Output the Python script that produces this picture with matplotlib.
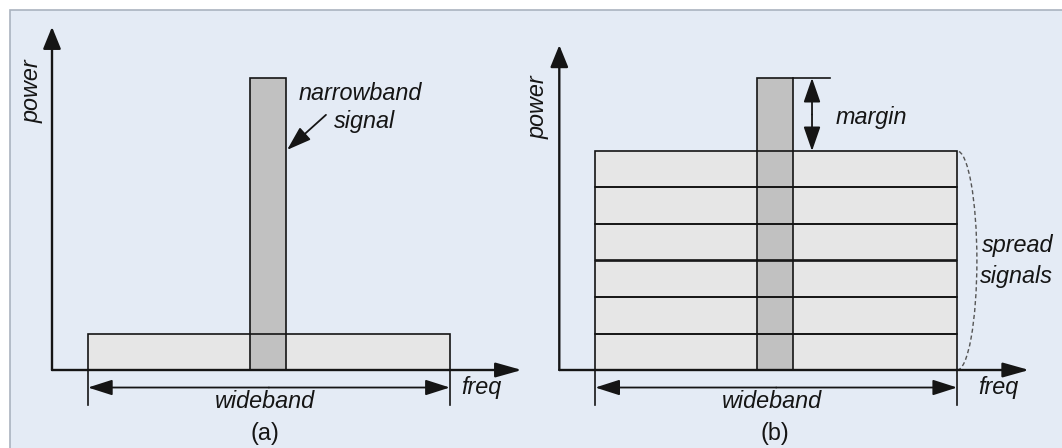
import numpy as np
import matplotlib
matplotlib.use("Agg")
import matplotlib.pyplot as plt
from matplotlib.patches import Rectangle, Arc

plt.rcParams['font.family'] = ['Liberation Sans', 'DejaVu Sans']

# band edges on the freq axis (arbitrary units)
wide_band = [1.0, 11.05]
narrow_band = [5.5, 6.5]
narrow_power = 8.0

# panel (a): one wideband signal at low power
wide_power_a = 1.0
# panel (b): six spread signals stacked
spread_powers = [1.0, 1.0, 1.0, 1.0, 1.0, 1.0]

freq_max = 13.05
power_max = {'a': 9.4, 'b': 8.9}

bg = '#e4ebf5'
wide_fill = '#e6e6e6'
narrow_fill = '#c1c1c1'
ink = '#151515'

W, H = 1062, 448
fig = plt.figure(figsize=(W / 100, H / 100), dpi=100, facecolor='white')

# light panel with a grey border on top/left
fig.patches.append(Rectangle((10 / W, -0.1), 1.2, 1.1 - 10 / H, transform=fig.transFigure,
                             facecolor=bg, edgecolor='#aab3bf', lw=1.2, zorder=-5))

px_x, px_y = 36.0, 36.5
y0_px = 370.0


def make_axes(origin_px):
    left = (origin_px - px_x) / W
    width = 14 * px_x / W
    ax = fig.add_axes([left, 0, width, 1])
    ax.set_xlim(-1, 13)
    ax.set_ylim(-(H - y0_px) / px_y, y0_px / px_y)
    ax.axis('off')
    return ax


def arrow(ax, xy_from, xy_to, style='-|>', hl=1.5, hw=0.45, lw=1.5):
    ax.annotate('', xy=xy_to, xytext=xy_from, annotation_clip=False,
                arrowprops=dict(arrowstyle=f'{style},head_length={hl},head_width={hw}',
                                color=ink, lw=lw, shrinkA=0, shrinkB=0))


def draw_axes(ax, key):
    arrow(ax, (0, 0), (0, power_max[key]), hl=1.35, hw=0.55, lw=1.7)
    arrow(ax, (0, 0), (freq_max, 0), hl=1.6, hw=0.45, lw=1.7)
    # wideband span marker
    for x in wide_band:
        ax.plot([x, x], [-0.96, 0], color=ink, lw=1.2, clip_on=False)
    arrow(ax, (np.mean(wide_band), -0.48), (wide_band[0], -0.48), hl=1.5, hw=0.48, lw=1.3)
    arrow(ax, (np.mean(wide_band), -0.48), (wide_band[1], -0.48), hl=1.5, hw=0.48, lw=1.3)


txt = dict(color=ink, fontsize=16.8, style='italic')

# ---- panel (a)
ax = make_axes(52.0)
wb = wide_band[1] - wide_band[0]
nb = narrow_band[1] - narrow_band[0]
ax.bar(wide_band[0], wide_power_a, width=wb, align='edge', color=wide_fill, zorder=1)
ax.bar(narrow_band[0], narrow_power, width=nb, align='edge', color=narrow_fill, zorder=2)
ax.bar(wide_band[0], wide_power_a, width=wb, align='edge', fill=False,
       edgecolor=ink, lw=1.2, zorder=3)
ax.bar(narrow_band[0], narrow_power, width=nb, align='edge', fill=False,
       edgecolor=ink, lw=1.2, zorder=3)
draw_axes(ax, 'a')
arrow(ax, (7.61, 6.99), (6.53, 6.03), hl=1.5, hw=0.5, lw=1.3)
ax.text(-0.55, 7.64, 'power', rotation=90, ha='center', va='center', **txt)
ax.text(8.55, 7.4, 'narrowband', ha='center', va='baseline', **txt)
ax.text(8.69, 6.63, 'signal', ha='center', va='baseline', **txt)
ax.text(5.9, -1.04, 'wideband', ha='center', va='baseline', **txt)
ax.text(11.92, -0.66, 'freq', ha='center', va='baseline', **txt)
ax.text(5.92, -1.73, '(a)', ha='center', va='center', color=ink, fontsize=16.8)

# ---- panel (b)
ax = make_axes(559.3)
bottoms = np.concatenate([[0], np.cumsum(spread_powers)[:-1]])
top = float(np.sum(spread_powers))
n = len(spread_powers)
ax.bar([wide_band[0]] * n, spread_powers, width=wb, bottom=bottoms, align='edge',
       color=wide_fill, zorder=1)
ax.bar(narrow_band[0], narrow_power, width=nb, align='edge', color=narrow_fill, zorder=2)
ax.bar([wide_band[0]] * n, spread_powers, width=wb, bottom=bottoms, align='edge',
       fill=False, edgecolor=ink, lw=1.2, zorder=3)
ax.bar(narrow_band[0], narrow_power, width=nb, align='edge', fill=False,
       edgecolor=ink, lw=1.2, zorder=3)
draw_axes(ax, 'b')
# margin between narrowband peak and spread signals
ax.plot([narrow_band[1], 7.52], [narrow_power, narrow_power], color=ink, lw=1.2)
arrow(ax, (7.02, (narrow_power + top) / 2), (7.02, narrow_power), hl=1.5, hw=0.52, lw=1.3)
arrow(ax, (7.02, (narrow_power + top) / 2), (7.02, top), hl=1.5, hw=0.52, lw=1.3)
ax.text(8.66, 6.74, 'margin', ha='center', va='baseline', **txt)
# dashed brace round the spread signals
ax.add_patch(Arc((wide_band[1], top / 2), 1.1, top, theta1=-90, theta2=90,
                 color='#555555', lw=1.0, ls=(0, (3, 2)), clip_on=False))
ax.text(12.74, 3.23, 'spread', ha='center', va='baseline', **txt)
ax.text(12.69, 2.38, 'signals', ha='center', va='baseline', **txt)
ax.text(-0.6, 7.19, 'power', rotation=90, ha='center', va='center', **txt)
ax.text(5.91, -1.04, 'wideband', ha='center', va='baseline', **txt)
ax.text(12.19, -0.66, 'freq', ha='center', va='baseline', **txt)
ax.text(5.99, -1.73, '(b)', ha='center', va='center', color=ink, fontsize=16.8)

fig.savefig('out.png', dpi=100, facecolor='white')
